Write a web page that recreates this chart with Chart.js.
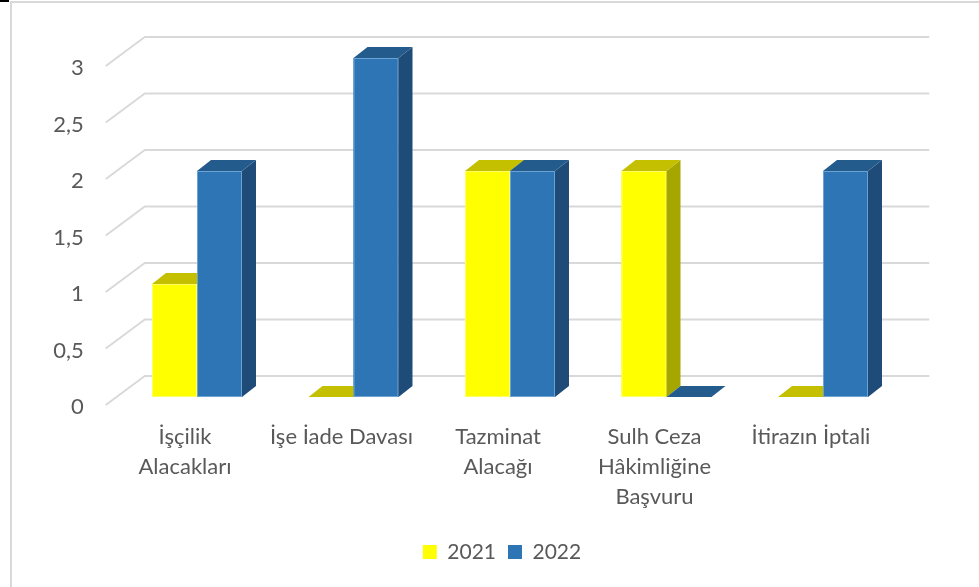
<!DOCTYPE html>
<html>
<head>
<meta charset="utf-8">
<script src="https://cdn.jsdelivr.net/npm/chart.js@4.4.1/dist/chart.umd.min.js"></script>
<style>
  html, body { margin: 0; padding: 0; background: #ffffff; overflow: hidden; }
  #wrap { position: absolute; left: 0; top: 0; width: 979px; height: 587px; }
  #frame { position: absolute; left: 10px; top: 1px; width: 980px; height: 600px;
           border-left: 2px solid #d9d9d9; border-top: 2px solid #d9d9d9; pointer-events: none; }
  #corner { position: absolute; left: 0; top: 0; width: 9px; height: 2px; background: #000; }
  canvas { position: absolute; left: 0; top: 0; }
</style>
</head>
<body>
<div id="wrap">
  <canvas id="chart" width="979" height="587"></canvas>
  <div id="frame"></div>
  <div id="corner"></div>
</div>
<script>
// ---- data ----
const categories = [
  ['İşçilik', 'Alacakları'],
  'İşe İade Davası',
  ['Tazminat', 'Alacağı'],
  ['Sulh Ceza', 'Hâkimliğine', 'Başvuru'],
  'İtirazın İptali'
];
const seriesNames = ['2021', '2022'];
const values2021 = [1, 0, 2, 2, 0];
const values2022 = [2, 3, 2, 0, 2];
const yMin = 0;
const yMax = 3;
const yStep = 0.5;

// ---- styling ----
const FONT = 'Lato, "Open Sans", sans-serif';
const TEXT = '#595959';
const faceColors = [
  { front: '#FFFF00', top: '#C4C000', side: '#A6A600', edge: 'rgba(255,255,200,0.5)' },
  { front: '#2E75B6', top: '#245B8D', side: '#1F4B78', edge: 'rgba(160,200,235,0.55)' }
];
const DX = 14, DY = 11; // bar depth
const GRID = '#d9d9d9';
const PLOT_BOTTOM = 397;

const threeD = {
  id: 'threeD',
  afterLayout(chart) {
    const lg = chart.legend;
    if (!lg) return;
    const dx = 502 - (lg.left + lg.right) / 2;
    lg.left += dx; lg.right += dx;
    const pad = lg.options.labels.padding;
    const newTop = 545 - 3.5 - pad;
    const dy = newTop - lg.top;
    lg.top += dy; lg.bottom += dy;
  },
  beforeDatasetsDraw(chart) {
    const { ctx, chartArea: ca, scales: { y } } = chart;
    ctx.save();
    ctx.strokeStyle = GRID;
    ctx.lineWidth = 2;
    ctx.lineJoin = 'round';
    y.ticks.forEach(t => {
      const py = y.getPixelForValue(t.value);
      ctx.beginPath();
      ctx.moveTo(ca.left - 13, py + 8);
      ctx.lineTo(ca.left + 26, py - 21);
      ctx.lineTo(ca.right + 28, py - 21);
      ctx.stroke();
    });
    ctx.restore();
  },
  afterDatasetsDraw(chart) {
    const { ctx } = chart;
    const metas = chart.data.datasets.map((d, i) => chart.getDatasetMeta(i));
    const n = chart.data.labels.length;
    ctx.save();
    for (let i = 0; i < n; i++) {
      metas.forEach((meta, d) => {
        const el = meta.data[i];
        if (!el) return;
        const { x, y, base, width } = el.getProps(['x', 'y', 'base', 'width'], true);
        const l = x - width / 2, r = x + width / 2;
        const c = faceColors[d];
        // front
        ctx.fillStyle = c.front;
        ctx.fillRect(l, y, width, base - y);
        if (base - y > 1) {
          ctx.strokeStyle = c.edge;
          ctx.lineWidth = 1;
          ctx.strokeRect(l + 0.5, y + 0.5, width - 1, base - y - 1);
        }
        // side
        ctx.fillStyle = c.side;
        ctx.beginPath();
        ctx.moveTo(r, y);
        ctx.lineTo(r + DX, y - DY);
        ctx.lineTo(r + DX, base - DY);
        ctx.lineTo(r, base);
        ctx.closePath();
        ctx.fill();
        // top
        ctx.fillStyle = c.top;
        ctx.beginPath();
        ctx.moveTo(l, y);
        ctx.lineTo(r, y);
        ctx.lineTo(r + DX, y - DY);
        ctx.lineTo(l + DX, y - DY);
        ctx.closePath();
        ctx.fill();
      });
    }
    ctx.restore();
  }
};

new Chart(document.getElementById('chart'), {
  type: 'bar',
  data: {
    labels: categories,
    datasets: [
      { label: seriesNames[0], data: values2021, backgroundColor: faceColors[0].front,
        categoryPercentage: 0.575, barPercentage: 1.0 },
      { label: seriesNames[1], data: values2022, backgroundColor: faceColors[1].front,
        categoryPercentage: 0.575, barPercentage: 1.0 }
    ]
  },
  options: {
    responsive: false,
    animation: false,
    devicePixelRatio: 1,
    layout: { padding: { top: 58, right: 77.75, left: 0, bottom: 0 } },
    plugins: {
      legend: {
        position: 'bottom',
        labels: {
          boxWidth: 14, boxHeight: 14, padding: 12,
          color: TEXT,
          font: { family: FONT, size: 21 }
        }
      },
      tooltip: { enabled: false },
      title: { display: false }
    },
    scales: {
      x: {
        grid: { display: false, drawTicks: false },
        border: { display: false },
        ticks: {
          color: TEXT,
          font: { family: FONT, size: 22, lineHeight: '30px' },
          padding: 25,
          labelOffset: -12,
          maxRotation: 0, minRotation: 0,
          autoSkip: false
        },
        afterFit(scale) {
          // fill the space so that the plot floor sits at PLOT_BOTTOM
          const lg = scale.chart.legend;
          const lgH = lg ? lg.height : 0;
          scale.height = 587 - lgH - PLOT_BOTTOM;
        }
      },
      y: {
        min: yMin, max: yMax,
        grid: { display: false, drawTicks: false },
        border: { display: false },
        ticks: {
          stepSize: yStep,
          color: TEXT,
          font: { family: FONT, size: 22 },
          padding: 35,
          labelOffset: 10,
          callback: v => String(v).replace('.', ',')
        },
        afterFit(scale) { scale.width = 118.75; }
      }
    }
  },
  plugins: [threeD]
});
</script>
</body>
</html>
